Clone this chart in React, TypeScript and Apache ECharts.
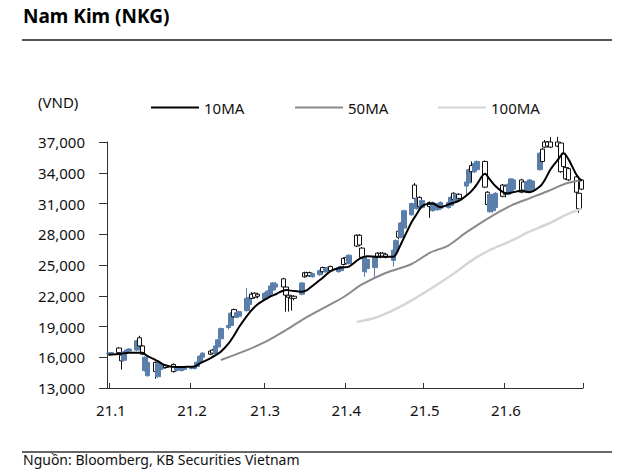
import React, { useEffect, useRef } from "react";
import * as echarts from "echarts";

const FONT = "'Noto Sans', sans-serif";

// Trading dates (weekdays) and candles [open, close, low, high]
const dates: string[] = [
  "2020-12-31", "2021-01-01",
  "2021-01-04", "2021-01-05", "2021-01-06", "2021-01-07", "2021-01-08",
  "2021-01-11", "2021-01-12", "2021-01-13", "2021-01-14", "2021-01-15",
  "2021-01-18", "2021-01-19", "2021-01-20", "2021-01-21", "2021-01-22",
  "2021-01-25", "2021-01-26", "2021-01-27", "2021-01-28", "2021-01-29",
  "2021-02-01", "2021-02-02", "2021-02-03", "2021-02-04", "2021-02-05",
  "2021-02-08", "2021-02-09", "2021-02-10", "2021-02-11", "2021-02-12",
  "2021-02-15", "2021-02-16", "2021-02-17", "2021-02-18", "2021-02-19",
  "2021-02-22", "2021-02-23", "2021-02-24", "2021-02-25", "2021-02-26",
  "2021-03-01", "2021-03-02", "2021-03-03", "2021-03-04", "2021-03-05",
  "2021-03-08", "2021-03-09", "2021-03-10", "2021-03-11", "2021-03-12",
  "2021-03-15", "2021-03-16", "2021-03-17", "2021-03-18", "2021-03-19",
  "2021-03-22", "2021-03-23", "2021-03-24", "2021-03-25", "2021-03-26",
  "2021-03-29", "2021-03-30", "2021-03-31", "2021-04-01", "2021-04-02",
  "2021-04-05", "2021-04-06", "2021-04-07", "2021-04-08", "2021-04-09",
  "2021-04-12", "2021-04-13", "2021-04-14", "2021-04-15", "2021-04-16",
  "2021-04-19", "2021-04-20", "2021-04-21", "2021-04-22", "2021-04-23",
  "2021-04-26", "2021-04-27", "2021-04-28", "2021-04-29", "2021-04-30",
  "2021-05-03", "2021-05-04", "2021-05-05", "2021-05-06", "2021-05-07",
  "2021-05-10", "2021-05-11", "2021-05-12", "2021-05-13", "2021-05-14",
  "2021-05-17", "2021-05-18", "2021-05-19", "2021-05-20", "2021-05-21",
  "2021-05-24", "2021-05-25", "2021-05-26", "2021-05-27", "2021-05-28",
  "2021-05-31", "2021-06-01", "2021-06-02", "2021-06-03", "2021-06-04",
  "2021-06-07", "2021-06-08", "2021-06-09", "2021-06-10", "2021-06-11",
  "2021-06-14", "2021-06-15", "2021-06-16", "2021-06-17", "2021-06-18",
  "2021-06-21", "2021-06-22", "2021-06-23", "2021-06-24", "2021-06-25",
  "2021-06-28", "2021-06-29", "2021-06-30",
];

const ohlc: number[][] = [
  [16350, 16400, 16300, 16450], [16400, 16450, 16350, 16500],
  [16900, 16450, 16400, 17000], [16200, 15650, 14800, 16300], [15700, 16500, 15600, 16600], [16500, 16700, 16400, 16800], [16600, 16800, 16500, 16900],
  [16700, 17600, 16600, 17700], [17900, 17100, 17000, 18100], [17100, 16300, 16200, 17200], [14700, 16000, 14600, 16100], [14200, 15500, 14100, 15600],
  [15500, 14600, 13900, 15600], [14100, 15400, 14000, 15500], [14800, 15400, 14700, 15500], [14900, 15300, 14800, 15400], [15200, 15000, 14900, 15300],
  [15300, 14600, 14500, 15400], [14700, 15000, 14600, 15100], [14800, 15000, 14700, 15100], [14700, 14900, 14600, 15000], [14800, 15000, 14700, 15100],
  [14900, 15000, 14800, 15100], [14900, 15100, 14800, 15200], [15100, 15500, 15000, 15600], [15500, 16100, 15400, 16200], [16000, 16400, 15900, 16500],
  [16600, 16300, 16200, 16700], [16700, 16400, 16300, 16800], [16400, 17100, 16300, 17200], [17000, 17700, 16900, 17800], [17800, 18800, 17700, 18900],
  [18900, 19100, 18700, 19500], [19100, 20300, 19000, 20400], [20650, 19950, 19850, 20750], [19900, 20350, 19800, 20450], [20000, 20450, 19900, 20550],
  [20550, 21750, 20450, 22750], [21150, 21850, 21050, 21950], [22150, 21750, 21650, 22350], [22250, 21850, 21750, 22350], [22150, 21950, 21750, 22250],
  [21650, 22250, 21550, 22350], [21950, 22450, 21850, 22550], [22150, 22950, 22050, 23050], [22550, 23250, 22450, 23350], [22850, 23150, 22650, 23350],
  [23650, 22850, 22750, 23750], [22850, 22050, 20450, 22950], [22050, 21850, 20450, 22150], [21950, 21750, 20550, 22050], [21950, 21750, 21550, 22050],
  [22150, 23250, 22050, 23350], [24250, 23850, 23750, 24350], [24250, 23950, 23850, 24350], [24250, 23950, 23850, 24350], [23850, 24150, 23750, 24250],
  [24050, 24450, 23950, 24550], [24750, 24350, 24250, 24850], [24350, 24650, 24250, 24750], [24450, 24750, 24350, 24850], [24850, 24450, 24350, 24950],
  [24350, 24750, 24250, 24850], [24450, 24850, 24350, 24950], [25650, 25050, 24950, 25750], [25750, 25150, 25050, 25950], [25150, 25950, 25050, 26050],
  [27900, 26850, 26750, 28000], [27900, 26950, 26850, 28000], [26650, 25750, 25650, 26750], [24350, 25850, 23850, 25950], [24650, 25550, 24250, 25650],
  [24750, 25750, 23850, 25850], [26150, 25750, 25650, 26250], [26150, 25850, 25650, 26250], [26150, 25850, 25750, 26250], [26050, 25750, 25650, 26150],
  [25450, 26450, 24850, 26550], [26350, 27400, 26250, 27500], [28300, 27700, 27500, 28400], [27700, 29100, 27600, 29200], [28600, 30300, 28500, 30400],
  [29900, 31000, 29800, 31100], [32800, 31500, 31300, 33000], [30500, 31500, 30400, 31600], [31600, 30700, 30600, 31700], [30600, 31300, 30500, 31400],
  [31100, 30700, 29600, 31200], [30300, 31100, 30200, 31200], [30400, 31000, 30300, 31100], [30400, 30900, 30300, 31000], [30500, 31100, 30400, 31200],
  [30600, 31100, 30500, 31200], [30800, 31600, 30700, 31700], [32000, 31400, 31300, 32100], [31300, 31900, 31200, 32000], [31900, 31500, 31400, 32000],
  [32700, 33100, 31700, 33200], [33000, 34300, 32900, 34400], [34700, 34100, 33100, 35100], [34100, 34900, 34000, 35000], [34300, 35100, 34200, 35200],
  [35100, 32600, 32500, 35200], [32100, 30900, 30800, 32200], [30200, 31900, 30100, 32000], [30300, 31600, 30100, 31700], [30600, 32000, 30500, 32100],
  [32800, 31700, 31600, 32900], [32700, 31900, 31600, 32800], [31900, 32900, 31800, 33000], [32100, 33400, 32000, 33500], [32400, 33300, 32300, 33400],
  [33300, 32100, 32000, 33400], [33100, 32300, 32200, 33200], [32100, 33100, 32000, 33200], [32200, 33300, 32100, 33400], [32400, 33200, 32300, 33300],
  [34300, 35900, 34200, 36000], [36300, 35100, 35000, 36400], [37000, 36500, 36400, 37200], [37000, 36600, 36500, 37100], [37000, 36500, 36400, 37500],
  [37000, 36600, 36500, 37500], [36900, 34100, 34000, 37000], [35900, 34600, 34500, 36000], [34500, 33400, 33300, 34600], [34400, 33300, 33200, 34500],
  [33600, 32100, 32000, 33700], [32000, 30500, 30100, 32100], [33300, 32400, 32300, 33400],
];

const ma10Dates = [
  "2020-12-31", "2021-01-05", "2021-01-08", "2021-01-13", "2021-01-15", "2021-01-18", "2021-01-20", "2021-01-22",
  "2021-01-26", "2021-01-29", "2021-02-02", "2021-02-04", "2021-02-08", "2021-02-10", "2021-02-12", "2021-02-15",
  "2021-02-17", "2021-02-19", "2021-02-23", "2021-02-26", "2021-03-02", "2021-03-05", "2021-03-09", "2021-03-11",
  "2021-03-15", "2021-03-17", "2021-03-19", "2021-03-23", "2021-03-26", "2021-03-30", "2021-04-02", "2021-04-06",
  "2021-04-09", "2021-04-13", "2021-04-19", "2021-04-20", "2021-04-22", "2021-04-26", "2021-04-28", "2021-04-30",
  "2021-05-04", "2021-05-07", "2021-05-11", "2021-05-14", "2021-05-18", "2021-05-20", "2021-05-21", "2021-05-24",
  "2021-05-26", "2021-05-28", "2021-06-01", "2021-06-03", "2021-06-07", "2021-06-10", "2021-06-14", "2021-06-16",
  "2021-06-18", "2021-06-21", "2021-06-23", "2021-06-25", "2021-06-28", "2021-06-30",
];
const ma10Values = [
  16240, 16350, 16430, 16430, 16100, 15750, 15450, 15200,
  15050, 15060, 15100, 15400, 15900, 16200, 16530, 17350,
  18100, 18950, 20350, 21150, 21800, 22150, 22560, 22500,
  22400, 22550, 22950, 23750, 24400, 24750, 24850, 25600,
  25850, 25800, 25800, 26050, 27100, 29200, 30000, 30750,
  31000, 30650, 31000, 31250, 32000, 32550, 32900, 33900,
  33300, 32700, 32000, 32050, 32250, 32100, 32650, 33350,
  34300, 35300, 35900, 35300, 33800, 33200,
];

const ma50Dates = [
  "2021-02-12", "2021-02-22", "2021-03-01", "2021-03-09", "2021-03-17", "2021-03-24", "2021-03-31",
  "2021-04-07", "2021-04-16", "2021-04-26", "2021-05-03", "2021-05-10", "2021-05-17", "2021-05-26",
  "2021-06-03", "2021-06-10", "2021-06-17", "2021-06-24", "2021-06-30",
];
const ma50Values = [
  15730, 16700, 17490, 18660, 19930, 20900, 21880,
  23100, 24220, 25100, 26200, 26900, 28200, 29680,
  30800, 31500, 32200, 32950, 33300,
];

const ma100Dates = [
  "2021-04-05", "2021-04-12", "2021-04-19", "2021-04-26", "2021-05-04", "2021-05-12", "2021-05-19",
  "2021-05-26", "2021-06-03", "2021-06-10", "2021-06-17", "2021-06-24", "2021-06-30",
];
const ma100Values = [
  19450, 19850, 20600, 21550, 22800, 24150, 25450,
  26480, 27350, 28250, 29000, 29900, 30500,
];

const xTickDates = ["2021-01-01", "2021-02-01", "2021-03-01", "2021-04-01", "2021-05-01", "2021-06-01"];
const xTickLabels = ["21.1", "21.2", "21.3", "21.4", "21.5", "21.6"];

const Y_MIN = 13000;
const Y_MAX = 37000;
const Y_STEP = 3000;

const UP_COLOR = "#5b7fab";

function buildDays(start: string, end: string): string[] {
  const out: string[] = [];
  const s = Date.parse(start + "T00:00:00Z");
  const e = Date.parse(end + "T00:00:00Z");
  for (let t = s; t <= e; t += 86400000) out.push(new Date(t).toISOString().slice(0, 10));
  return out;
}

export default function App() {
  const ref = useRef<HTMLDivElement>(null);

  useEffect(() => {
    if (!ref.current) return;
    const chart = echarts.init(ref.current, undefined, { renderer: "svg" });

    const days = buildDays("2020-12-31", "2021-06-30");
    const candleMap = new Map<string, number[]>();
    dates.forEach((d, i) => candleMap.set(d, ohlc[i]));
    const candleData = days.map((d) => candleMap.get(d) ?? ["-", "-", "-", "-"]);

    const pairs = (ds: string[], vs: number[]) => ds.map((d, i) => [d, vs[i]]);

    const isTick = (_i: number, v: string) => xTickDates.indexOf(v) >= 0;

    const legendBase = {
      top: 100,
      icon: "rect",
      itemWidth: 48,
      itemHeight: 2,
      padding: 0,
      itemGap: 0,
      textStyle: { fontSize: 15, color: "#111", fontFamily: FONT, padding: [0, 0, 0, 0] },
    };

    chart.setOption({
      animation: false,
      backgroundColor: "#ffffff",
      textStyle: { fontFamily: FONT },
      grid: { left: 107, right: 57, top: 142, bottom: 86, containLabel: false },
      legend: [
        { ...legendBase, left: 151, data: ["10MA"] },
        { ...legendBase, left: 295, data: ["50MA"] },
        { ...legendBase, left: 438, data: ["100MA"] },
      ],
      xAxis: {
        type: "category",
        data: days,
        boundaryGap: true,
        axisLine: { show: true, lineStyle: { color: "#333", width: 1 } },
        axisTick: { show: true, inside: true, length: 5, interval: isTick, lineStyle: { color: "#333" } },
        axisLabel: {
          interval: isTick,
          formatter: (v: string) => {
            const k = xTickDates.indexOf(v);
            return k >= 0 ? xTickLabels[k] : "";
          },
          margin: 14,
          fontSize: 15,
          color: "#111",
          fontFamily: FONT,
        },
        splitLine: { show: false },
      },
      yAxis: {
        type: "value",
        min: Y_MIN,
        max: Y_MAX,
        interval: Y_STEP,
        axisLine: { show: true, lineStyle: { color: "#333", width: 1 } },
        axisTick: { show: true, length: 8, lineStyle: { color: "#333" } },
        splitLine: { show: false },
        axisLabel: {
          formatter: (v: number) => v.toLocaleString("en-US"),
          margin: 22,
          fontSize: 15,
          color: "#111",
          fontFamily: FONT,
        },
      },
      series: [
        {
          type: "candlestick",
          name: "NKG",
          data: candleData,
          barWidth: 5,
          itemStyle: {
            color: UP_COLOR,
            borderColor: UP_COLOR,
            color0: "#ffffff",
            borderColor0: "#111111",
            borderWidth: 1,
          },
          z: 2,
        },
        {
          type: "line",
          name: "100MA",
          data: pairs(ma100Dates, ma100Values),
          smooth: 0.3,
          showSymbol: false,
          itemStyle: { color: "#d6d6d6" },
          lineStyle: { color: "#d6d6d6", width: 2.5 },
          z: 3,
        },
        {
          type: "line",
          name: "50MA",
          data: pairs(ma50Dates, ma50Values),
          smooth: 0.3,
          showSymbol: false,
          itemStyle: { color: "#8a8a8a" },
          lineStyle: { color: "#8a8a8a", width: 2 },
          z: 4,
        },
        {
          type: "line",
          name: "10MA",
          data: pairs(ma10Dates, ma10Values),
          smooth: 0.3,
          showSymbol: false,
          itemStyle: { color: "#000000" },
          lineStyle: { color: "#000000", width: 2 },
          z: 5,
        },
      ],
      graphic: [
        {
          type: "text",
          left: 23,
          top: 6,
          style: { text: "Nam Kim (NKG)", font: `bold 19px ${FONT}`, fill: "#000" },
        },
        {
          type: "line",
          shape: { x1: 22, y1: 40, x2: 612, y2: 40 },
          style: { stroke: "#555", lineWidth: 2 },
        },
        {
          type: "text",
          left: 38,
          top: 94,
          style: { text: "(VND)", font: `15px ${FONT}`, fill: "#111" },
        },
        {
          type: "line",
          shape: { x1: 22, y1: 452, x2: 612, y2: 452 },
          style: { stroke: "#333", lineWidth: 1.5 },
        },
        {
          type: "text",
          left: 23,
          top: 452,
          style: { text: "Nguồn: Bloomberg, KB Securities Vietnam", font: `14px ${FONT}`, fill: "#111" },
        },
      ],
    });

    return () => chart.dispose();
  }, []);

  return (
    <div
      ref={ref}
      style={{ position: "fixed", left: 0, top: 0, width: 640, height: 474, background: "#fff" }}
    />
  );
}
